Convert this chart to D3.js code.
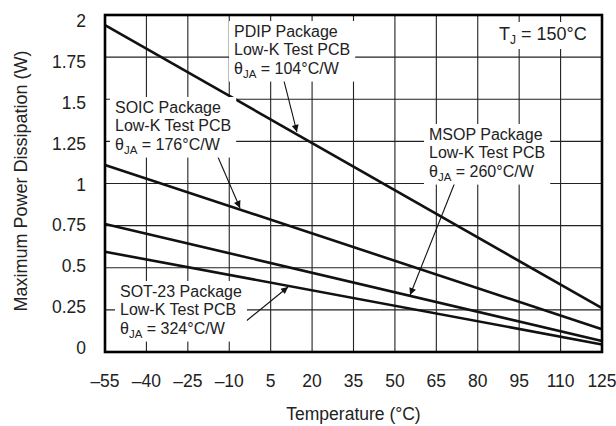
<!DOCTYPE html>
<html>
<head>
<meta charset="utf-8">
<script src="https://cdn.jsdelivr.net/npm/d3@7"></script>
<style>
  body { margin: 0; background: #fff; }
  svg { font-family: "Liberation Sans", Arial, sans-serif; }
</style>
</head>
<body>
<svg width="616" height="426"></svg>
<script>
// temperature axis
const xTicks = [-55, -40, -25, -10, 5, 20, 35, 50, 65, 80, 95, 110, 125];
const yTicks = [0, 0.25, 0.5, 0.75, 1, 1.25, 1.5, 1.75, 2];
const yLabels = ["0", "0.25", "0.5", "0.75", "1", "1.25", "1.5", "1.75", "2"];

// derating lines, read at -55 and 125 degC
const packages = ["PDIP", "SOIC", "MSOP", "SOT-23"];
const startPower = [1.94, 1.11, 0.76, 0.595];
const endPower = [0.26, 0.135, 0.065, 0.045];
const thetaJA = [104, 176, 260, 324];

const svg = d3.select("svg");
const margin = {left: 105, right: 14, top: 15, bottom: 74};
const width = 616, height = 426;

const x = d3.scaleLinear().domain([-55, 125]).range([margin.left, width - margin.right]);
const y = d3.scaleLinear().domain([0, 2]).range([height - margin.bottom, margin.top]);
// the printed tick labels sit slightly inside the gridlines
const yLab = d3.scaleLinear().domain([0, 2]).range([347.5, 21]);

const grid = svg.append("g").attr("stroke", "#222").attr("stroke-width", 1.1);
grid.selectAll("line.v").data(xTicks).enter().append("line")
    .attr("x1", d => x(d)).attr("x2", d => x(d))
    .attr("y1", y(0)).attr("y2", y(2));
grid.selectAll("line.h").data(yTicks).enter().append("line")
    .attr("x1", x(-55)).attr("x2", x(125))
    .attr("y1", d => y(d)).attr("y2", d => y(d));

// curves
const series = packages.map((p, i) => ({
    name: p,
    points: [[-55, startPower[i]], [125, endPower[i]]]
}));
const line = d3.line().x(d => x(d[0])).y(d => y(d[1]));
svg.append("g").selectAll("path").data(series).enter().append("path")
    .attr("d", d => line(d.points))
    .attr("fill", "none")
    .attr("stroke", "#111")
    .attr("stroke-width", 2.6);

// frame
svg.append("rect")
    .attr("x", x(-55)).attr("y", y(2))
    .attr("width", x(125) - x(-55)).attr("height", y(0) - y(2))
    .attr("fill", "none").attr("stroke", "#000").attr("stroke-width", 2.6);

// ticks
svg.append("g").selectAll("text").data(xTicks).enter().append("text")
    .attr("x", d => x(d)).attr("y", 387)
    .attr("text-anchor", "middle")
    .attr("font-size", 17.5).attr("fill", "#222")
    .text(d => d < 0 ? "\u2013" + Math.abs(d) : d);

svg.append("g").selectAll("text").data(yTicks).enter().append("text")
    .attr("x", 86).attr("y", d => yLab(d))
    .attr("dy", "0.36em")
    .attr("text-anchor", "end")
    .attr("font-size", 17.5).attr("fill", "#222")
    .text((d, i) => yLabels[i]);

svg.append("text")
    .attr("x", (x(-55) + x(125)) / 2).attr("y", 420)
    .attr("text-anchor", "middle").attr("font-size", 17.5).attr("fill", "#222")
    .text("Temperature (\u00b0C)");

svg.append("text")
    .attr("transform", "translate(27,181) rotate(-90)")
    .attr("text-anchor", "middle").attr("font-size", 18).attr("fill", "#222")
    .text("Maximum Power Dissipation (W)");

// arrow marker
svg.append("defs").append("marker")
    .attr("id", "arr").attr("viewBox", "0 0 10 10")
    .attr("refX", 10).attr("refY", 5)
    .attr("markerWidth", 16).attr("markerHeight", 7)
    .attr("markerUnits", "userSpaceOnUse")
    .attr("orient", "auto")
    .append("path").attr("d", "M0,0 L10,5 L0,10 z").attr("fill", "#111");

// annotations: text position + arrow start/end in data units
const notes = [
    {i: 0, tx: 234, ty: 37, from: [9.5, 1.63], to: [14.5, 1.306]},
    {i: 1, tx: 115, ty: 113, from: [-14.1, 1.157], to: [-6.1, 0.855]},
    {i: 2, tx: 429, ty: 140, from: [71.8, 1.009], to: [55.5, 0.338]},
    {i: 3, tx: 120, ty: 297, from: [-4.3, 0.178], to: [11.3, 0.386]}
];

notes.forEach(n => {
    svg.append("line")
        .attr("x1", x(n.from[0])).attr("y1", y(n.from[1]))
        .attr("x2", x(n.to[0])).attr("y2", y(n.to[1]))
        .attr("stroke", "#111").attr("stroke-width", 1.1)
        .attr("marker-end", "url(#arr)");
});

const labelFont = 16;
notes.forEach(n => {
    const g = svg.append("g");
    const bg = g.append("rect").attr("fill", "#fff");
    const t = g.append("text").attr("font-size", labelFont).attr("fill", "#222");
    t.append("tspan").attr("x", n.tx).attr("y", n.ty).text(packages[n.i] + " Package");
    t.append("tspan").attr("x", n.tx).attr("y", n.ty + 18.3).text("Low-K Test PCB");
    const t3 = t.append("tspan").attr("x", n.tx).attr("y", n.ty + 36.6);
    t3.text("\u03b8");
    t.append("tspan").attr("font-size", 11.5).attr("dy", 4).text("JA");
    t.append("tspan").attr("dy", -4).text(" = " + thetaJA[n.i] + "\u00b0C/W");
    const b = t.node().getBBox();
    bg.attr("x", b.x - 5).attr("y", b.y - 2).attr("width", b.width + 10).attr("height", b.height + 4);
});

// junction temperature note
const tj = svg.append("g");
const tjBg = tj.append("rect").attr("fill", "#fff");
const tjText = tj.append("text").attr("x", 499).attr("y", 40).attr("font-size", 18).attr("fill", "#222");
tjText.append("tspan").text("T");
tjText.append("tspan").attr("font-size", 12).attr("dy", 4).text("J");
tjText.append("tspan").attr("dy", -4).text(" = 150\u00b0C");
const tb = tjText.node().getBBox();
tjBg.attr("x", tb.x - 5).attr("y", tb.y - 2).attr("width", tb.width + 10).attr("height", tb.height + 4);
</script>
</body>
</html>
